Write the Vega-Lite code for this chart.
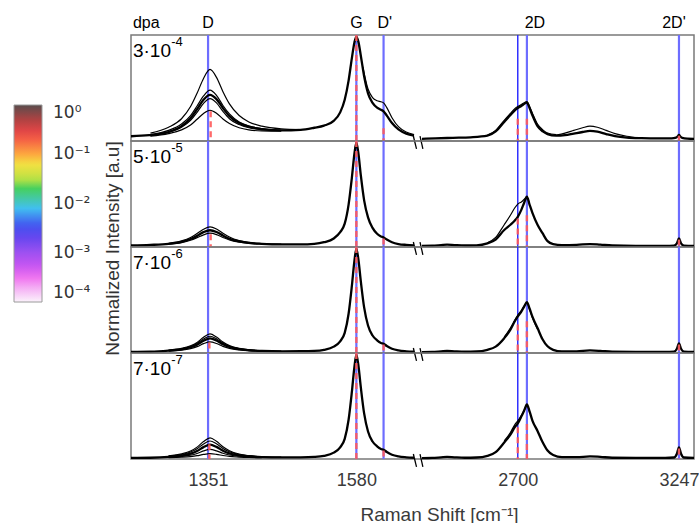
{
"$schema": "https://vega.github.io/schema/vega-lite/v6.json",
"background": "white",
"padding": {"left": 13, "top": 14, "right": 0, "bottom": 0},
"spacing": 0,
"bounds": "flush",
"config": {"view": {"stroke": "#7a7a7a", "strokeWidth": 1.5}, "font": "Liberation Sans"},
"resolve": {"scale": {"x": "independent", "y": "independent", "color": "independent"}},
"datasets": {
"blueA": [{"x":1351},{"x":1580},{"x":1622},{"x":2731},{"x":3247}],
"blueB": [{"x":2700}],
"brk": [{"x":1668,"x2":1890,"y":0.047,"y2":-0.075},{"x":2199,"x2":2378,"y":0.047,"y2":-0.075}],
"hdr": [{"l":"D","x":1351},{"l":"G","x":1580},{"l":"D'","x":1624},{"l":"2D","x":2758},{"l":"2D'","x":3230}],
"r1": [{"x":1355,"h":0.28},{"x":1580,"h":1},{"x":1622,"h":0.12},{"x":2700,"h":0.21},{"x":2731,"h":0.21},{"x":3247,"h":0.05}],
"r2": [{"x":1355,"h":0.12},{"x":1580,"h":1},{"x":1622,"h":0.08},{"x":2700,"h":0.27},{"x":2731,"h":0.3},{"x":3247,"h":0.07}],
"r3": [{"x":1353,"h":0.1},{"x":1580,"h":1},{"x":1622,"h":0.08},{"x":2700,"h":0.27},{"x":2731,"h":0.3},{"x":3247,"h":0.08}],
"r4": [{"x":1353,"h":0.14},{"x":1580,"h":1},{"x":1622,"h":0.08},{"x":2700,"h":0.3},{"x":2731,"h":0.33},{"x":3247,"h":0.1}],
"p1": [
{"c":"mL","x":1232,"y":0.045},{"c":"mL","x":1260,"y":0.055},{"c":"mL","x":1290,"y":0.085},{"c":"mL","x":1310,"y":0.14},{"c":"mL","x":1324,"y":0.215},{"c":"mL","x":1334,"y":0.3},{"c":"mL","x":1344,"y":0.39},{"c":"mL","x":1354,"y":0.435},{"c":"mL","x":1364,"y":0.395},{"c":"mL","x":1374,"y":0.31},{"c":"mL","x":1384,"y":0.235},{"c":"mL","x":1399,"y":0.17},{"c":"mL","x":1414,"y":0.135},{"c":"mL","x":1434,"y":0.113},{"c":"mL","x":1464,"y":0.1},{"c":"mL","x":1494,"y":0.105},{"c":"mL","x":1515,"y":0.125},{"c":"mL","x":1530,"y":0.145},{"c":"mL","x":1545,"y":0.19},{"c":"mL","x":1555,"y":0.27},{"c":"mL","x":1562,"y":0.39},{"c":"mL","x":1568,"y":0.57},{"c":"mL","x":1573,"y":0.78},{"c":"mL","x":1577,"y":0.93},{"c":"mL","x":1580,"y":0.985},{"c":"mL","x":1583,"y":0.94},{"c":"mL","x":1587,"y":0.8},{"c":"mL","x":1592,"y":0.61},{"c":"mL","x":1598,"y":0.45},{"c":"mL","x":1605,"y":0.36},{"c":"mL","x":1612,"y":0.315},{"c":"mL","x":1618,"y":0.295},{"c":"mL","x":1622,"y":0.28},{"c":"mL","x":1627,"y":0.24},{"c":"mL","x":1635,"y":0.17},{"c":"mL","x":1645,"y":0.11},{"c":"mL","x":1657,"y":0.07},{"c":"mL","x":1669,"y":0.05},
{"c":"v1","x":1262,"y":0.075},{"c":"v1","x":1290,"y":0.13},{"c":"v1","x":1310,"y":0.21},{"c":"v1","x":1324,"y":0.325},{"c":"v1","x":1334,"y":0.45},{"c":"v1","x":1344,"y":0.59},{"c":"v1","x":1354,"y":0.675},{"c":"v1","x":1364,"y":0.6},{"c":"v1","x":1374,"y":0.465},{"c":"v1","x":1384,"y":0.35},{"c":"v1","x":1399,"y":0.24},{"c":"v1","x":1414,"y":0.18},{"c":"v1","x":1434,"y":0.14},{"c":"v1","x":1464,"y":0.115},{"c":"v1","x":1494,"y":0.108},
{"c":"v2","x":1262,"y":0.06},{"c":"v2","x":1290,"y":0.1},{"c":"v2","x":1310,"y":0.16},{"c":"v2","x":1324,"y":0.24},{"c":"v2","x":1334,"y":0.33},{"c":"v2","x":1344,"y":0.425},{"c":"v2","x":1354,"y":0.48},{"c":"v2","x":1364,"y":0.43},{"c":"v2","x":1374,"y":0.335},{"c":"v2","x":1384,"y":0.255},{"c":"v2","x":1399,"y":0.18},{"c":"v2","x":1414,"y":0.142},{"c":"v2","x":1434,"y":0.117},{"c":"v2","x":1464,"y":0.1},
{"c":"v3","x":1262,"y":0.052},{"c":"v3","x":1290,"y":0.082},{"c":"v3","x":1310,"y":0.13},{"c":"v3","x":1324,"y":0.195},{"c":"v3","x":1334,"y":0.27},{"c":"v3","x":1344,"y":0.355},{"c":"v3","x":1354,"y":0.4},{"c":"v3","x":1364,"y":0.36},{"c":"v3","x":1374,"y":0.28},{"c":"v3","x":1384,"y":0.21},{"c":"v3","x":1399,"y":0.155},{"c":"v3","x":1414,"y":0.125},{"c":"v3","x":1434,"y":0.107},{"c":"v3","x":1464,"y":0.098},
{"c":"v4","x":1262,"y":0.045},{"c":"v4","x":1290,"y":0.07},{"c":"v4","x":1310,"y":0.105},{"c":"v4","x":1324,"y":0.15},{"c":"v4","x":1334,"y":0.205},{"c":"v4","x":1344,"y":0.26},{"c":"v4","x":1354,"y":0.29},{"c":"v4","x":1364,"y":0.262},{"c":"v4","x":1374,"y":0.208},{"c":"v4","x":1384,"y":0.165},{"c":"v4","x":1399,"y":0.125},{"c":"v4","x":1414,"y":0.105},{"c":"v4","x":1434,"y":0.095},{"c":"v4","x":1464,"y":0.092},
{"c":"v5","x":1590,"y":0.7},{"c":"v5","x":1598,"y":0.49},{"c":"v5","x":1605,"y":0.41},{"c":"v5","x":1612,"y":0.38},{"c":"v5","x":1618,"y":0.37},{"c":"v5","x":1622,"y":0.36},{"c":"v5","x":1627,"y":0.315},{"c":"v5","x":1635,"y":0.22},{"c":"v5","x":1645,"y":0.135},{"c":"v5","x":1657,"y":0.085},{"c":"v5","x":1669,"y":0.06},
{"c":"mR","x":2375,"y":0.02},{"c":"mR","x":2420,"y":0.025},{"c":"mR","x":2480,"y":0.03},{"c":"mR","x":2540,"y":0.035},{"c":"mR","x":2597,"y":0.05},{"c":"mR","x":2625,"y":0.09},{"c":"mR","x":2654,"y":0.18},{"c":"mR","x":2675,"y":0.245},{"c":"mR","x":2690,"y":0.29},{"c":"mR","x":2700,"y":0.31},{"c":"mR","x":2712,"y":0.33},{"c":"mR","x":2722,"y":0.35},{"c":"mR","x":2731,"y":0.364},{"c":"mR","x":2740,"y":0.31},{"c":"mR","x":2750,"y":0.24},{"c":"mR","x":2767,"y":0.14},{"c":"mR","x":2785,"y":0.09},{"c":"mR","x":2801,"y":0.065},{"c":"mR","x":2830,"y":0.05},{"c":"mR","x":2860,"y":0.055},{"c":"mR","x":2890,"y":0.07},{"c":"mR","x":2920,"y":0.085},{"c":"mR","x":2945,"y":0.095},{"c":"mR","x":2970,"y":0.088},{"c":"mR","x":3000,"y":0.065},{"c":"mR","x":3030,"y":0.045},{"c":"mR","x":3070,"y":0.032},{"c":"mR","x":3120,"y":0.027},{"c":"mR","x":3180,"y":0.025},{"c":"mR","x":3222,"y":0.025},{"c":"mR","x":3237,"y":0.032},{"c":"mR","x":3243,"y":0.045},{"c":"mR","x":3247,"y":0.058},{"c":"mR","x":3251,"y":0.045},{"c":"mR","x":3258,"y":0.03},{"c":"mR","x":3275,"y":0.022},{"c":"mR","x":3298,"y":0.02},
{"c":"v6","x":2830,"y":0.055},{"c":"v6","x":2860,"y":0.075},{"c":"v6","x":2890,"y":0.1},{"c":"v6","x":2920,"y":0.125},{"c":"v6","x":2945,"y":0.14},{"c":"v6","x":2970,"y":0.13},{"c":"v6","x":3000,"y":0.1},{"c":"v6","x":3030,"y":0.07},{"c":"v6","x":3070,"y":0.045},{"c":"v6","x":3110,"y":0.03},
{"c":"v7","x":2597,"y":0.055},{"c":"v7","x":2625,"y":0.1},{"c":"v7","x":2654,"y":0.195},{"c":"v7","x":2675,"y":0.26},{"c":"v7","x":2690,"y":0.305},{"c":"v7","x":2700,"y":0.325},{"c":"v7","x":2712,"y":0.345},{"c":"v7","x":2722,"y":0.36},{"c":"v7","x":2731,"y":0.372},{"c":"v7","x":2740,"y":0.325},{"c":"v7","x":2750,"y":0.26},{"c":"v7","x":2767,"y":0.16},{"c":"v7","x":2785,"y":0.105},{"c":"v7","x":2801,"y":0.075},{"c":"v7","x":2830,"y":0.06}
],
"p2": [
{"c":"mL","x":1232,"y":0.015},{"c":"mL","x":1262,"y":0.02},{"c":"mL","x":1290,"y":0.03},{"c":"mL","x":1310,"y":0.048},{"c":"mL","x":1324,"y":0.075},{"c":"mL","x":1334,"y":0.105},{"c":"mL","x":1344,"y":0.14},{"c":"mL","x":1354,"y":0.158},{"c":"mL","x":1364,"y":0.142},{"c":"mL","x":1374,"y":0.108},{"c":"mL","x":1384,"y":0.078},{"c":"mL","x":1399,"y":0.052},{"c":"mL","x":1414,"y":0.038},{"c":"mL","x":1434,"y":0.03},{"c":"mL","x":1464,"y":0.025},{"c":"mL","x":1494,"y":0.025},{"c":"mL","x":1515,"y":0.03},{"c":"mL","x":1530,"y":0.045},{"c":"mL","x":1545,"y":0.08},{"c":"mL","x":1555,"y":0.14},{"c":"mL","x":1562,"y":0.22},{"c":"mL","x":1568,"y":0.4},{"c":"mL","x":1573,"y":0.65},{"c":"mL","x":1577,"y":0.88},{"c":"mL","x":1580,"y":0.985},{"c":"mL","x":1583,"y":0.89},{"c":"mL","x":1587,"y":0.67},{"c":"mL","x":1592,"y":0.44},{"c":"mL","x":1598,"y":0.28},{"c":"mL","x":1605,"y":0.18},{"c":"mL","x":1612,"y":0.125},{"c":"mL","x":1618,"y":0.1},{"c":"mL","x":1622,"y":0.09},{"c":"mL","x":1627,"y":0.07},{"c":"mL","x":1635,"y":0.045},{"c":"mL","x":1645,"y":0.028},{"c":"mL","x":1657,"y":0.02},{"c":"mL","x":1669,"y":0.016},
{"c":"v1","x":1290,"y":0.035},{"c":"v1","x":1310,"y":0.058},{"c":"v1","x":1324,"y":0.09},{"c":"v1","x":1334,"y":0.127},{"c":"v1","x":1344,"y":0.168},{"c":"v1","x":1354,"y":0.19},{"c":"v1","x":1364,"y":0.17},{"c":"v1","x":1374,"y":0.13},{"c":"v1","x":1384,"y":0.094},{"c":"v1","x":1399,"y":0.06},{"c":"v1","x":1414,"y":0.043},{"c":"v1","x":1434,"y":0.032},{"c":"v1","x":1464,"y":0.026},
{"c":"v2","x":1290,"y":0.027},{"c":"v2","x":1310,"y":0.042},{"c":"v2","x":1324,"y":0.064},{"c":"v2","x":1334,"y":0.088},{"c":"v2","x":1344,"y":0.115},{"c":"v2","x":1354,"y":0.13},{"c":"v2","x":1364,"y":0.117},{"c":"v2","x":1374,"y":0.09},{"c":"v2","x":1384,"y":0.066},{"c":"v2","x":1399,"y":0.045},{"c":"v2","x":1414,"y":0.034},{"c":"v2","x":1434,"y":0.028},{"c":"v2","x":1464,"y":0.025},
{"c":"mR","x":2375,"y":0.01},{"c":"mR","x":2410,"y":0.012},{"c":"mR","x":2440,"y":0.018},{"c":"mR","x":2460,"y":0.022},{"c":"mR","x":2485,"y":0.018},{"c":"mR","x":2520,"y":0.014},{"c":"mR","x":2560,"y":0.016},{"c":"mR","x":2597,"y":0.035},{"c":"mR","x":2625,"y":0.07},{"c":"mR","x":2654,"y":0.16},{"c":"mR","x":2675,"y":0.21},{"c":"mR","x":2690,"y":0.25},{"c":"mR","x":2700,"y":0.285},{"c":"mR","x":2712,"y":0.35},{"c":"mR","x":2722,"y":0.42},{"c":"mR","x":2731,"y":0.475},{"c":"mR","x":2740,"y":0.4},{"c":"mR","x":2750,"y":0.32},{"c":"mR","x":2767,"y":0.21},{"c":"mR","x":2784,"y":0.13},{"c":"mR","x":2801,"y":0.055},{"c":"mR","x":2820,"y":0.028},{"c":"mR","x":2850,"y":0.018},{"c":"mR","x":2900,"y":0.02},{"c":"mR","x":2945,"y":0.028},{"c":"mR","x":2980,"y":0.022},{"c":"mR","x":3020,"y":0.014},{"c":"mR","x":3100,"y":0.01},{"c":"mR","x":3200,"y":0.01},{"c":"mR","x":3230,"y":0.013},{"c":"mR","x":3240,"y":0.035},{"c":"mR","x":3247,"y":0.08},{"c":"mR","x":3254,"y":0.035},{"c":"mR","x":3264,"y":0.013},{"c":"mR","x":3298,"y":0.01},
{"c":"v3","x":2597,"y":0.04},{"c":"v3","x":2625,"y":0.09},{"c":"v3","x":2654,"y":0.21},{"c":"v3","x":2675,"y":0.3},{"c":"v3","x":2690,"y":0.37},{"c":"v3","x":2700,"y":0.405},{"c":"v3","x":2712,"y":0.425},{"c":"v3","x":2722,"y":0.45},{"c":"v3","x":2731,"y":0.47},{"c":"v3","x":2740,"y":0.4}
],
"p3": [
{"c":"mL","x":1232,"y":0.01},{"c":"mL","x":1262,"y":0.012},{"c":"mL","x":1290,"y":0.022},{"c":"mL","x":1310,"y":0.034},{"c":"mL","x":1324,"y":0.054},{"c":"mL","x":1334,"y":0.079},{"c":"mL","x":1344,"y":0.116},{"c":"mL","x":1354,"y":0.138},{"c":"mL","x":1364,"y":0.118},{"c":"mL","x":1374,"y":0.082},{"c":"mL","x":1384,"y":0.057},{"c":"mL","x":1399,"y":0.036},{"c":"mL","x":1414,"y":0.026},{"c":"mL","x":1434,"y":0.02},{"c":"mL","x":1464,"y":0.016},{"c":"mL","x":1494,"y":0.017},{"c":"mL","x":1515,"y":0.02},{"c":"mL","x":1530,"y":0.03},{"c":"mL","x":1545,"y":0.06},{"c":"mL","x":1555,"y":0.11},{"c":"mL","x":1562,"y":0.19},{"c":"mL","x":1568,"y":0.37},{"c":"mL","x":1573,"y":0.63},{"c":"mL","x":1577,"y":0.87},{"c":"mL","x":1580,"y":0.985},{"c":"mL","x":1583,"y":0.89},{"c":"mL","x":1587,"y":0.67},{"c":"mL","x":1592,"y":0.43},{"c":"mL","x":1598,"y":0.26},{"c":"mL","x":1605,"y":0.165},{"c":"mL","x":1612,"y":0.12},{"c":"mL","x":1618,"y":0.095},{"c":"mL","x":1622,"y":0.088},{"c":"mL","x":1627,"y":0.066},{"c":"mL","x":1635,"y":0.04},{"c":"mL","x":1645,"y":0.024},{"c":"mL","x":1657,"y":0.016},{"c":"mL","x":1669,"y":0.012},
{"c":"v1","x":1290,"y":0.028},{"c":"v1","x":1310,"y":0.043},{"c":"v1","x":1324,"y":0.068},{"c":"v1","x":1334,"y":0.1},{"c":"v1","x":1344,"y":0.148},{"c":"v1","x":1354,"y":0.18},{"c":"v1","x":1364,"y":0.15},{"c":"v1","x":1374,"y":0.104},{"c":"v1","x":1384,"y":0.07},{"c":"v1","x":1399,"y":0.043},{"c":"v1","x":1414,"y":0.03},{"c":"v1","x":1434,"y":0.021},{"c":"v1","x":1464,"y":0.017},
{"c":"v2","x":1290,"y":0.018},{"c":"v2","x":1310,"y":0.027},{"c":"v2","x":1324,"y":0.042},{"c":"v2","x":1334,"y":0.06},{"c":"v2","x":1344,"y":0.088},{"c":"v2","x":1354,"y":0.105},{"c":"v2","x":1364,"y":0.09},{"c":"v2","x":1374,"y":0.063},{"c":"v2","x":1384,"y":0.044},{"c":"v2","x":1399,"y":0.029},{"c":"v2","x":1414,"y":0.021},{"c":"v2","x":1434,"y":0.017},{"c":"v2","x":1464,"y":0.015},
{"c":"v3","x":1290,"y":0.025},{"c":"v3","x":1310,"y":0.038},{"c":"v3","x":1324,"y":0.06},{"c":"v3","x":1334,"y":0.09},{"c":"v3","x":1344,"y":0.132},{"c":"v3","x":1354,"y":0.158},{"c":"v3","x":1364,"y":0.134},{"c":"v3","x":1374,"y":0.093},{"c":"v3","x":1384,"y":0.063},{"c":"v3","x":1399,"y":0.04},{"c":"v3","x":1414,"y":0.028},{"c":"v3","x":1434,"y":0.02},
{"c":"mR","x":2375,"y":0.008},{"c":"mR","x":2410,"y":0.01},{"c":"mR","x":2440,"y":0.016},{"c":"mR","x":2460,"y":0.02},{"c":"mR","x":2485,"y":0.016},{"c":"mR","x":2520,"y":0.012},{"c":"mR","x":2560,"y":0.014},{"c":"mR","x":2597,"y":0.03},{"c":"mR","x":2625,"y":0.06},{"c":"mR","x":2654,"y":0.14},{"c":"mR","x":2675,"y":0.22},{"c":"mR","x":2690,"y":0.3},{"c":"mR","x":2700,"y":0.345},{"c":"mR","x":2712,"y":0.39},{"c":"mR","x":2722,"y":0.44},{"c":"mR","x":2731,"y":0.48},{"c":"mR","x":2740,"y":0.42},{"c":"mR","x":2750,"y":0.34},{"c":"mR","x":2767,"y":0.235},{"c":"mR","x":2784,"y":0.13},{"c":"mR","x":2801,"y":0.063},{"c":"mR","x":2820,"y":0.03},{"c":"mR","x":2850,"y":0.015},{"c":"mR","x":2900,"y":0.016},{"c":"mR","x":2945,"y":0.024},{"c":"mR","x":2980,"y":0.02},{"c":"mR","x":3020,"y":0.012},{"c":"mR","x":3100,"y":0.01},{"c":"mR","x":3200,"y":0.01},{"c":"mR","x":3230,"y":0.013},{"c":"mR","x":3240,"y":0.04},{"c":"mR","x":3247,"y":0.09},{"c":"mR","x":3254,"y":0.04},{"c":"mR","x":3264,"y":0.013},{"c":"mR","x":3298,"y":0.01},
{"c":"v4","x":2654,"y":0.15},{"c":"v4","x":2675,"y":0.235},{"c":"v4","x":2690,"y":0.31},{"c":"v4","x":2700,"y":0.355},{"c":"v4","x":2712,"y":0.4},{"c":"v4","x":2722,"y":0.445},{"c":"v4","x":2731,"y":0.475},{"c":"v4","x":2740,"y":0.41},{"c":"v4","x":2750,"y":0.33},{"c":"v4","x":2767,"y":0.225}
],
"p4": [
{"c":"mL","x":1232,"y":0.01},{"c":"mL","x":1262,"y":0.012},{"c":"mL","x":1290,"y":0.02},{"c":"mL","x":1310,"y":0.032},{"c":"mL","x":1324,"y":0.05},{"c":"mL","x":1334,"y":0.075},{"c":"mL","x":1344,"y":0.112},{"c":"mL","x":1354,"y":0.135},{"c":"mL","x":1364,"y":0.114},{"c":"mL","x":1374,"y":0.078},{"c":"mL","x":1384,"y":0.053},{"c":"mL","x":1399,"y":0.034},{"c":"mL","x":1414,"y":0.024},{"c":"mL","x":1434,"y":0.018},{"c":"mL","x":1464,"y":0.015},{"c":"mL","x":1494,"y":0.016},{"c":"mL","x":1515,"y":0.02},{"c":"mL","x":1530,"y":0.03},{"c":"mL","x":1545,"y":0.06},{"c":"mL","x":1555,"y":0.11},{"c":"mL","x":1562,"y":0.19},{"c":"mL","x":1568,"y":0.37},{"c":"mL","x":1573,"y":0.63},{"c":"mL","x":1577,"y":0.87},{"c":"mL","x":1580,"y":0.985},{"c":"mL","x":1583,"y":0.89},{"c":"mL","x":1587,"y":0.67},{"c":"mL","x":1592,"y":0.43},{"c":"mL","x":1598,"y":0.26},{"c":"mL","x":1605,"y":0.165},{"c":"mL","x":1612,"y":0.12},{"c":"mL","x":1618,"y":0.095},{"c":"mL","x":1622,"y":0.088},{"c":"mL","x":1627,"y":0.066},{"c":"mL","x":1635,"y":0.04},{"c":"mL","x":1645,"y":0.024},{"c":"mL","x":1657,"y":0.016},{"c":"mL","x":1669,"y":0.012},
{"c":"v1","x":1290,"y":0.03},{"c":"v1","x":1310,"y":0.048},{"c":"v1","x":1324,"y":0.075},{"c":"v1","x":1334,"y":0.112},{"c":"v1","x":1344,"y":0.165},{"c":"v1","x":1354,"y":0.2},{"c":"v1","x":1364,"y":0.167},{"c":"v1","x":1374,"y":0.115},{"c":"v1","x":1384,"y":0.078},{"c":"v1","x":1399,"y":0.047},{"c":"v1","x":1414,"y":0.032},{"c":"v1","x":1434,"y":0.022},{"c":"v1","x":1464,"y":0.017},
{"c":"v2","x":1290,"y":0.027},{"c":"v2","x":1310,"y":0.042},{"c":"v2","x":1324,"y":0.066},{"c":"v2","x":1334,"y":0.097},{"c":"v2","x":1344,"y":0.142},{"c":"v2","x":1354,"y":0.17},{"c":"v2","x":1364,"y":0.143},{"c":"v2","x":1374,"y":0.1},{"c":"v2","x":1384,"y":0.068},{"c":"v2","x":1399,"y":0.042},{"c":"v2","x":1414,"y":0.029},{"c":"v2","x":1434,"y":0.02},
{"c":"v3","x":1290,"y":0.016},{"c":"v3","x":1310,"y":0.024},{"c":"v3","x":1324,"y":0.036},{"c":"v3","x":1334,"y":0.052},{"c":"v3","x":1344,"y":0.076},{"c":"v3","x":1354,"y":0.09},{"c":"v3","x":1364,"y":0.077},{"c":"v3","x":1374,"y":0.054},{"c":"v3","x":1384,"y":0.038},{"c":"v3","x":1399,"y":0.026},{"c":"v3","x":1414,"y":0.019},{"c":"v3","x":1434,"y":0.015},
{"c":"v4","x":1290,"y":0.013},{"c":"v4","x":1310,"y":0.017},{"c":"v4","x":1324,"y":0.023},{"c":"v4","x":1334,"y":0.031},{"c":"v4","x":1344,"y":0.043},{"c":"v4","x":1354,"y":0.05},{"c":"v4","x":1364,"y":0.044},{"c":"v4","x":1374,"y":0.033},{"c":"v4","x":1384,"y":0.024},{"c":"v4","x":1399,"y":0.018},{"c":"v4","x":1414,"y":0.014},{"c":"v4","x":1434,"y":0.012},
{"c":"mR","x":2375,"y":0.008},{"c":"mR","x":2410,"y":0.01},{"c":"mR","x":2440,"y":0.016},{"c":"mR","x":2460,"y":0.02},{"c":"mR","x":2485,"y":0.016},{"c":"mR","x":2520,"y":0.012},{"c":"mR","x":2560,"y":0.014},{"c":"mR","x":2597,"y":0.03},{"c":"mR","x":2625,"y":0.065},{"c":"mR","x":2654,"y":0.156},{"c":"mR","x":2675,"y":0.23},{"c":"mR","x":2690,"y":0.3},{"c":"mR","x":2700,"y":0.335},{"c":"mR","x":2712,"y":0.4},{"c":"mR","x":2722,"y":0.46},{"c":"mR","x":2731,"y":0.516},{"c":"mR","x":2740,"y":0.45},{"c":"mR","x":2750,"y":0.36},{"c":"mR","x":2767,"y":0.265},{"c":"mR","x":2784,"y":0.16},{"c":"mR","x":2801,"y":0.08},{"c":"mR","x":2820,"y":0.038},{"c":"mR","x":2850,"y":0.018},{"c":"mR","x":2900,"y":0.017},{"c":"mR","x":2945,"y":0.025},{"c":"mR","x":2980,"y":0.02},{"c":"mR","x":3020,"y":0.012},{"c":"mR","x":3100,"y":0.01},{"c":"mR","x":3200,"y":0.01},{"c":"mR","x":3230,"y":0.014},{"c":"mR","x":3240,"y":0.05},{"c":"mR","x":3247,"y":0.11},{"c":"mR","x":3254,"y":0.05},{"c":"mR","x":3264,"y":0.014},{"c":"mR","x":3298,"y":0.01},
{"c":"v5","x":2654,"y":0.17},{"c":"v5","x":2675,"y":0.25},{"c":"v5","x":2690,"y":0.325},{"c":"v5","x":2700,"y":0.36},{"c":"v5","x":2712,"y":0.41},{"c":"v5","x":2722,"y":0.46},{"c":"v5","x":2731,"y":0.505},{"c":"v5","x":2740,"y":0.44}
]
},
"vconcat": [
{
"width": 563, "height": 106,
"layer": [
{"data": {"name": "blueA"}, "mark": {"type": "rule", "color": "#6d6dff", "strokeWidth": 2.2}, "encoding": {"x": {"field": "x", "type": "quantitative", "scale": {"domain": [1232,1669,2375,3298], "range": [0,283,291,563], "nice": false, "zero": false}, "axis": null}}},
{"data": {"name": "blueB"}, "mark": {"type": "rule", "color": "#2222ff", "strokeWidth": 1.4}, "encoding": {"x": {"field": "x", "type": "quantitative", "axis": null}}},
{"data": {"name": "p1"}, "transform": [{"filter": "datum.c == 'mL' || datum.c == 'mR'"}], "mark": {"type": "line", "color": "black", "strokeWidth": 2.3, "interpolate": "monotone"}, "encoding": {"x": {"field": "x", "type": "quantitative", "axis": null}, "y": {"field": "y", "type": "quantitative", "scale": {"domain": [0, 1], "nice": false, "zero": false}, "axis": null}, "detail": {"field": "c"}}},
{"data": {"name": "p1"}, "transform": [{"filter": "datum.c != 'mL' && datum.c != 'mR'"}], "mark": {"type": "line", "color": "black", "strokeWidth": 1.2, "interpolate": "monotone"}, "encoding": {"x": {"field": "x", "type": "quantitative", "axis": null}, "y": {"field": "y", "type": "quantitative", "axis": null}, "detail": {"field": "c"}}},
{"data": {"name": "r1"}, "mark": {"type": "rule", "color": "#ff5a5a", "strokeWidth": 2.4, "strokeDash": [6, 4], "opacity": 0.9}, "encoding": {"x": {"field": "x", "type": "quantitative", "axis": null}, "y": {"field": "h", "type": "quantitative", "axis": null}, "y2": {"datum": 0}}},
{"data": {"name": "brk"}, "mark": {"type": "rule", "color": "black", "strokeWidth": 1.3}, "encoding": {"x": {"field": "x", "type": "quantitative", "axis": null}, "x2": {"field": "x2"}, "y": {"field": "y", "type": "quantitative", "axis": null}, "y2": {"field": "y2"}}},
{"data": {"values": [{"t": "3·10"}]}, "mark": {"type": "text", "align": "left", "baseline": "alphabetic", "fontSize": 19, "color": "black"}, "encoding": {"x": {"datum": 1235, "axis": null}, "y": {"datum": 0.79, "axis": null}, "text": {"field": "t"}}},
{"data": {"values": [{"t": "-4"}]}, "mark": {"type": "text", "align": "left", "baseline": "alphabetic", "fontSize": 13, "color": "black"}, "encoding": {"x": {"datum": 1294, "axis": null}, "y": {"datum": 0.9, "axis": null}, "text": {"field": "t"}}},
{"data": {"name": "hdr"}, "mark": {"type": "text", "align": "center", "baseline": "alphabetic", "fontSize": 16, "color": "black"}, "encoding": {"x": {"field": "x", "type": "quantitative", "axis": null}, "y": {"datum": 1.062, "axis": null}, "text": {"field": "l"}}},
{"data": {"values": [{"t": "dpa"}]}, "mark": {"type": "text", "align": "left", "baseline": "alphabetic", "fontSize": 16, "color": "black"}, "encoding": {"x": {"datum": 1235, "axis": null}, "y": {"datum": 1.062, "axis": null}, "text": {"field": "t"}}},
{"data": {"values": [{"v": 0.0001}, {"v": 1}]}, "mark": {"type": "point", "opacity": 0, "size": 0}, "encoding": {"color": {"field": "v", "type": "quantitative",
 "scale": {"type": "log", "interpolate": "rgb", "domain": [0.0001, 0.0001585, 0.0003162, 0.0005623, 0.001259, 0.002512, 0.003981, 0.007943, 0.01259, 0.01995, 0.03162, 0.0631, 0.1122, 0.2512, 0.5012, 1], "range": ["#fbf3fb", "#f6c6f6", "#ef72ef", "#c455f2", "#8f4ff0", "#5443ef", "#4262f0", "#41bff0", "#45c9a6", "#45d05f", "#bde243", "#f3e042", "#ff9a3e", "#f04848", "#b04242", "#5a4d4d"]},
 "legend": {"orient": "none", "legendX": -117, "legendY": 70, "direction": "vertical", "gradientLength": 197, "gradientThickness": 28, "gradientStrokeColor": "#9a9a9a", "gradientStrokeWidth": 1, "title": null, "values": [0.0001, 0.001, 0.01, 0.1, 1], "labelExpr": "datum.value >= 0.9 ? '10⁰' : datum.value >= 0.09 ? '10⁻¹' : datum.value >= 0.009 ? '10⁻²' : datum.value >= 0.0009 ? '10⁻³' : '10⁻⁴'", "labelFontSize": 17, "labelColor": "#333333", "labelOffset": 11, "labelFont": "DejaVu Sans", "padding": 0}}}}
]
},
{
"width": 563, "height": 106,
"layer": [
{"data": {"name": "blueA"}, "mark": {"type": "rule", "color": "#6d6dff", "strokeWidth": 2.2}, "encoding": {"x": {"field": "x", "type": "quantitative", "scale": {"domain": [1232,1669,2375,3298], "range": [0,283,291,563], "nice": false, "zero": false}, "axis": null}}},
{"data": {"name": "blueB"}, "mark": {"type": "rule", "color": "#2222ff", "strokeWidth": 1.4}, "encoding": {"x": {"field": "x", "type": "quantitative", "axis": null}}},
{"data": {"name": "p2"}, "transform": [{"filter": "datum.c == 'mL' || datum.c == 'mR'"}], "mark": {"type": "line", "color": "black", "strokeWidth": 2.3, "interpolate": "monotone"}, "encoding": {"x": {"field": "x", "type": "quantitative", "axis": null}, "y": {"field": "y", "type": "quantitative", "scale": {"domain": [0, 1], "nice": false, "zero": false}, "axis": {"title": "Normalized Intensity [a.u]", "labels": false, "ticks": false, "domain": false, "grid": false, "titleFontSize": 19, "titleFontWeight": "normal", "titleColor": "#333333", "titleX": -13, "titleY": 107, "titleBaseline": "alphabetic", "titleAngle": 270, "titleAlign": "center"}}, "detail": {"field": "c"}}},
{"data": {"name": "p2"}, "transform": [{"filter": "datum.c != 'mL' && datum.c != 'mR'"}], "mark": {"type": "line", "color": "black", "strokeWidth": 1.2, "interpolate": "monotone"}, "encoding": {"x": {"field": "x", "type": "quantitative", "axis": null}, "y": {"field": "y", "type": "quantitative"}, "detail": {"field": "c"}}},
{"data": {"name": "r2"}, "mark": {"type": "rule", "color": "#ff5a5a", "strokeWidth": 2.4, "strokeDash": [6, 4], "opacity": 0.9}, "encoding": {"x": {"field": "x", "type": "quantitative", "axis": null}, "y": {"field": "h", "type": "quantitative"}, "y2": {"datum": 0}}},
{"data": {"name": "brk"}, "mark": {"type": "rule", "color": "black", "strokeWidth": 1.3}, "encoding": {"x": {"field": "x", "type": "quantitative", "axis": null}, "x2": {"field": "x2"}, "y": {"field": "y", "type": "quantitative"}, "y2": {"field": "y2"}}},
{"data": {"values": [{"t": "5·10"}]}, "mark": {"type": "text", "align": "left", "baseline": "alphabetic", "fontSize": 19, "color": "black"}, "encoding": {"x": {"datum": 1235, "axis": null}, "y": {"datum": 0.79}, "text": {"field": "t"}}},
{"data": {"values": [{"t": "-5"}]}, "mark": {"type": "text", "align": "left", "baseline": "alphabetic", "fontSize": 13, "color": "black"}, "encoding": {"x": {"datum": 1294, "axis": null}, "y": {"datum": 0.9}, "text": {"field": "t"}}}
]
},
{
"width": 563, "height": 106,
"layer": [
{"data": {"name": "blueA"}, "mark": {"type": "rule", "color": "#6d6dff", "strokeWidth": 2.2}, "encoding": {"x": {"field": "x", "type": "quantitative", "scale": {"domain": [1232,1669,2375,3298], "range": [0,283,291,563], "nice": false, "zero": false}, "axis": null}}},
{"data": {"name": "blueB"}, "mark": {"type": "rule", "color": "#2222ff", "strokeWidth": 1.4}, "encoding": {"x": {"field": "x", "type": "quantitative", "axis": null}}},
{"data": {"name": "p3"}, "transform": [{"filter": "datum.c == 'mL' || datum.c == 'mR'"}], "mark": {"type": "line", "color": "black", "strokeWidth": 2.3, "interpolate": "monotone"}, "encoding": {"x": {"field": "x", "type": "quantitative", "axis": null}, "y": {"field": "y", "type": "quantitative", "scale": {"domain": [0, 1], "nice": false, "zero": false}, "axis": null}, "detail": {"field": "c"}}},
{"data": {"name": "p3"}, "transform": [{"filter": "datum.c != 'mL' && datum.c != 'mR'"}], "mark": {"type": "line", "color": "black", "strokeWidth": 1.2, "interpolate": "monotone"}, "encoding": {"x": {"field": "x", "type": "quantitative", "axis": null}, "y": {"field": "y", "type": "quantitative", "axis": null}, "detail": {"field": "c"}}},
{"data": {"name": "r3"}, "mark": {"type": "rule", "color": "#ff5a5a", "strokeWidth": 2.4, "strokeDash": [6, 4], "opacity": 0.9}, "encoding": {"x": {"field": "x", "type": "quantitative", "axis": null}, "y": {"field": "h", "type": "quantitative", "axis": null}, "y2": {"datum": 0}}},
{"data": {"name": "brk"}, "mark": {"type": "rule", "color": "black", "strokeWidth": 1.3}, "encoding": {"x": {"field": "x", "type": "quantitative", "axis": null}, "x2": {"field": "x2"}, "y": {"field": "y", "type": "quantitative", "axis": null}, "y2": {"field": "y2"}}},
{"data": {"values": [{"t": "7·10"}]}, "mark": {"type": "text", "align": "left", "baseline": "alphabetic", "fontSize": 19, "color": "black"}, "encoding": {"x": {"datum": 1235, "axis": null}, "y": {"datum": 0.79, "axis": null}, "text": {"field": "t"}}},
{"data": {"values": [{"t": "-6"}]}, "mark": {"type": "text", "align": "left", "baseline": "alphabetic", "fontSize": 13, "color": "black"}, "encoding": {"x": {"datum": 1294, "axis": null}, "y": {"datum": 0.9, "axis": null}, "text": {"field": "t"}}}
]
},
{
"width": 563, "height": 106,
"layer": [
{"data": {"name": "blueA"}, "mark": {"type": "rule", "color": "#6d6dff", "strokeWidth": 2.2}, "encoding": {"x": {"field": "x", "type": "quantitative", "scale": {"domain": [1232,1669,2375,3298], "range": [0,283,291,563], "nice": false, "zero": false}, "axis": {"values": [1351, 1580, 2700, 3247], "format": "d", "title": "Raman Shift [cm⁻¹]", "labelFontSize": 18, "labelColor": "#3a3a3a", "labels": true, "ticks": false, "tickSize": 0, "domain": false, "grid": false, "labelPadding": 12, "labelFlush": false, "labelOverlap": false, "titleFontSize": 19, "titleFontWeight": "normal", "titleColor": "#3a3a3a", "titleX": 308, "titleY": 61, "titleBaseline": "alphabetic", "titleAlign": "center"}}}},
{"data": {"name": "blueB"}, "mark": {"type": "rule", "color": "#2222ff", "strokeWidth": 1.4}, "encoding": {"x": {"field": "x", "type": "quantitative"}}},
{"data": {"name": "p4"}, "transform": [{"filter": "datum.c == 'mL' || datum.c == 'mR'"}], "mark": {"type": "line", "color": "black", "strokeWidth": 2.3, "interpolate": "monotone"}, "encoding": {"x": {"field": "x", "type": "quantitative"}, "y": {"field": "y", "type": "quantitative", "scale": {"domain": [0, 1], "nice": false, "zero": false}, "axis": null}, "detail": {"field": "c"}}},
{"data": {"name": "p4"}, "transform": [{"filter": "datum.c != 'mL' && datum.c != 'mR'"}], "mark": {"type": "line", "color": "black", "strokeWidth": 1.2, "interpolate": "monotone"}, "encoding": {"x": {"field": "x", "type": "quantitative"}, "y": {"field": "y", "type": "quantitative", "axis": null}, "detail": {"field": "c"}}},
{"data": {"name": "r4"}, "mark": {"type": "rule", "color": "#ff5a5a", "strokeWidth": 2.4, "strokeDash": [6, 4], "opacity": 0.9}, "encoding": {"x": {"field": "x", "type": "quantitative"}, "y": {"field": "h", "type": "quantitative", "axis": null}, "y2": {"datum": 0}}},
{"data": {"name": "brk"}, "mark": {"type": "rule", "color": "black", "strokeWidth": 1.3}, "encoding": {"x": {"field": "x", "type": "quantitative"}, "x2": {"field": "x2"}, "y": {"field": "y", "type": "quantitative", "axis": null}, "y2": {"field": "y2"}}},
{"data": {"values": [{"t": "7·10"}]}, "mark": {"type": "text", "align": "left", "baseline": "alphabetic", "fontSize": 19, "color": "black"}, "encoding": {"x": {"datum": 1235}, "y": {"datum": 0.79, "axis": null}, "text": {"field": "t"}}},
{"data": {"values": [{"t": "-7"}]}, "mark": {"type": "text", "align": "left", "baseline": "alphabetic", "fontSize": 13, "color": "black"}, "encoding": {"x": {"datum": 1294}, "y": {"datum": 0.9, "axis": null}, "text": {"field": "t"}}}
]
}
]
}
